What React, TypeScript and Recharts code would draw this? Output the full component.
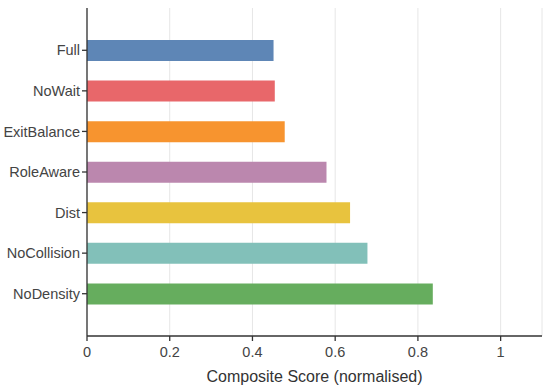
import { BarChart, Bar, XAxis, YAxis, CartesianGrid, Cell } from 'recharts';

const variants = ['Full', 'NoWait', 'ExitBalance', 'RoleAware', 'Dist', 'NoCollision', 'NoDensity'];
const scores = [0.451, 0.454, 0.478, 0.579, 0.636, 0.678, 0.836];
const barColors = ['#5e86b6', '#e8676a', '#f7942f', '#bb87ae', '#e8c33e', '#82c0b9', '#66ad5e'];
const xTicks = [0, 0.2, 0.4, 0.6, 0.8, 1];

const data = variants.map((name, i) => ({ name, score: scores[i] }));

const font = '"Liberation Sans", Arial, sans-serif';

export default function App() {
  return (
    <div style={{ position: 'absolute', left: 0, top: 0, width: 550, height: 389, background: '#fff' }}>
      <BarChart
        width={550}
        height={389}
        data={data}
        layout="vertical"
        margin={{ top: 8, right: 8, bottom: 0, left: 0 }}
      >
        <CartesianGrid horizontal={false} stroke="#e6e6e6" strokeWidth={1} />
        <XAxis
          type="number"
          domain={[0, 1.1]}
          ticks={xTicks}
          tickFormatter={(v: number) => String(v)}
          height={53}
          stroke="#333"
          strokeWidth={1.3}
          tickSize={5}
          tickMargin={6}
          tick={{ fill: '#444', fontSize: 14.5, fontFamily: font }}
          label={{ value: 'Composite Score (normalised)', position: 'insideBottom', offset: 7, fill: '#333', fontSize: 16, fontFamily: font }}
        />
        <YAxis
          type="category"
          dataKey="name"
          width={87}
          padding={{ top: 22, bottom: 22 }}
          stroke="#333"
          strokeWidth={1.3}
          tickSize={5}
          tick={{ fill: '#444', fontSize: 14.5, fontFamily: font }}
        />
        <Bar dataKey="score" barSize={21} isAnimationActive={false}>
          {data.map((d, i) => (
            <Cell key={d.name} fill={barColors[i]} />
          ))}
        </Bar>
      </BarChart>
    </div>
  );
}
